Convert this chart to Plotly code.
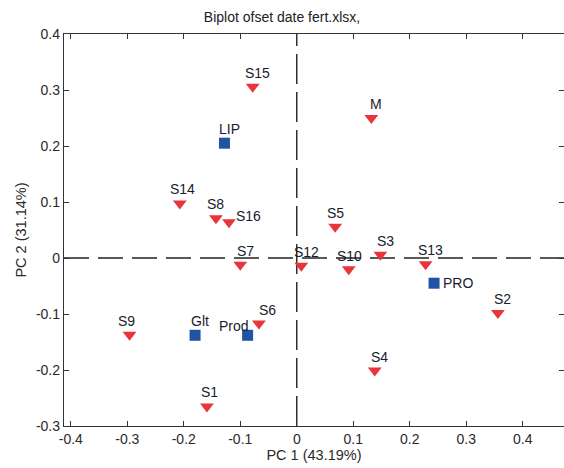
import plotly.graph_objects as go

# Observations (red down-triangles)
obs_names = ["S1", "S2", "S3", "S4", "S5", "S6", "S7", "S8", "S9", "S10",
             "S12", "S13", "S14", "S15", "S16", "M"]
obs_pc1 = [-0.159, 0.356, 0.148, 0.138, 0.068, -0.067, -0.100, -0.143, -0.296, 0.092,
           0.008, 0.228, -0.207, -0.078, -0.120, 0.132]
obs_pc2 = [-0.265, -0.098, 0.006, -0.201, 0.056, -0.117, -0.012, 0.071, -0.137, -0.020,
           -0.014, -0.011, 0.0975, 0.306, 0.064, 0.250]

# Variables (blue squares)
var_names = ["LIP", "PRO", "Glt", "Prod"]
var_pc1 = [-0.128, 0.243, -0.180, -0.087]
var_pc2 = [0.205, -0.045, -0.138, -0.138]

x_ticks = [-0.4, -0.3, -0.2, -0.1, 0, 0.1, 0.2, 0.3, 0.4]
y_ticks = [-0.3, -0.2, -0.1, 0, 0.1, 0.2, 0.3, 0.4]

FONT = "Liberation Sans, Arial"

# label pixel offsets (style)
default_off = (5, 14)
label_off = {
    "S16": (20, 6),
    "PRO": (24, 0),
    "Prod": (-14, 9),
    "S6": (9, 14),
    "S9": (-3, 14),
    "S8": (0, 14),
    "S10": (1, 13),
    "S5": (0, 14),
    "S1": (3, 14),
    "S14": (3, 14),
}

fig = go.Figure()
fig.add_trace(go.Scatter(
    x=obs_pc1, y=obs_pc2, mode="markers",
    marker=dict(symbol="triangle-down", size=12, color="#E8343A", line=dict(width=0)),
    showlegend=False, hoverinfo="text", text=obs_names,
))
fig.add_trace(go.Scatter(
    x=var_pc1, y=var_pc2, mode="markers",
    marker=dict(symbol="square", size=11, color="#2153A3", line=dict(width=0)),
    showlegend=False, hoverinfo="text", text=var_names,
))

for names, xs, ys in [(obs_names, obs_pc1, obs_pc2), (var_names, var_pc1, var_pc2)]:
    for n, xv, yv in zip(names, xs, ys):
        dx, dy = label_off.get(n, default_off)
        fig.add_annotation(x=xv, y=yv, text=n, showarrow=False,
                           xshift=dx, yshift=dy,
                           font=dict(family=FONT, size=14, color="#1a1a2e"))

# dashed zero lines
fig.add_shape(type="line", xref="paper", yref="y", x0=0, x1=1, y0=0, y1=0,
              line=dict(color="#222222", width=1.4, dash="25px,9px"), layer="below")
fig.add_shape(type="line", xref="x", yref="paper", x0=0, x1=0, y0=0, y1=1,
              line=dict(color="#222222", width=1.4, dash="30px,8px"), layer="below")

axis_common = dict(
    showgrid=False, zeroline=False, showline=True, linecolor="#333333", linewidth=1.3,
    mirror="ticks", ticks="inside", ticklen=5, tickwidth=1.2, tickcolor="#333333",
    tickfont=dict(family=FONT, size=14, color="#2a2a2a"),
)

fig.update_layout(
    width=564, height=468,
    margin=dict(l=64, r=0, t=34, b=42),
    paper_bgcolor="white", plot_bgcolor="white",
    title=dict(text="Biplot ofset date fert.xlsx,", x=0.5, xanchor="center",
               y=1 - 17 / 468, yanchor="middle",
               font=dict(family=FONT, size=14, color="#222222")),
    xaxis=dict(range=[-0.412, 0.473], tickvals=x_ticks,
               ticktext=[f"{v:g}" for v in x_ticks],
               title=dict(text="PC 1 (43.19%)", standoff=2,
                          font=dict(family=FONT, size=14.5, color="#2a2a2a")),
               **axis_common),
    yaxis=dict(range=[-0.3, 0.4], tickvals=y_ticks,
               ticktext=[f"{v:g}" for v in y_ticks],
               title=dict(text="PC 2 (31.14%)", standoff=5,
                          font=dict(family=FONT, size=14.5, color="#2a2a2a")),
               **axis_common),
)

fig.write_html("out.html", config={"displayModeBar": False},
               post_script="document.body.style.margin='0';document.body.style.padding='0';")
